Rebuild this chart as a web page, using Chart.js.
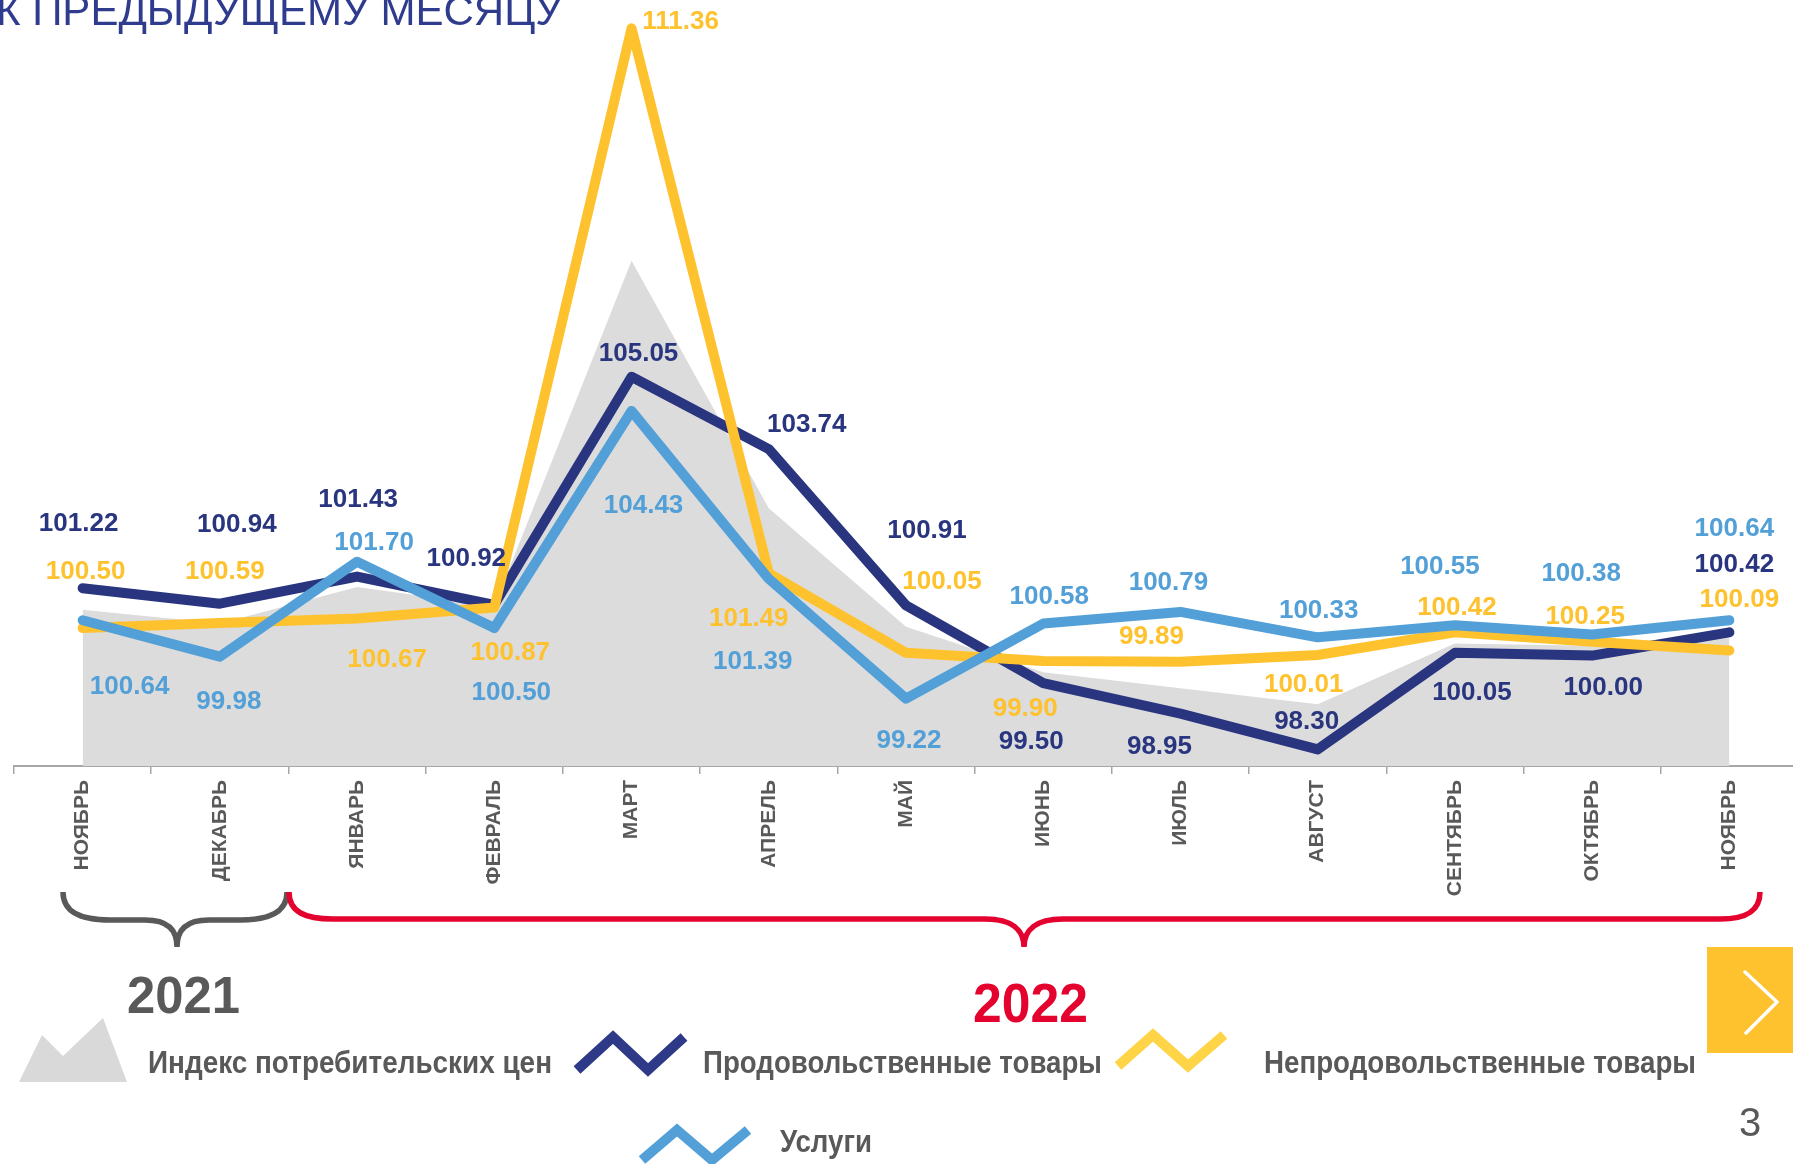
<!DOCTYPE html>
<html lang="ru">
<head>
<meta charset="utf-8">
<title>Индексы цен к предыдущему месяцу</title>
<script src="https://cdn.jsdelivr.net/npm/chart.js@4.4.1/dist/chart.umd.min.js"></script>
<style>
  html, body { margin: 0; padding: 0; background: #ffffff; }
  body { width: 1793px; height: 1164px; overflow: hidden; position: relative; }
  #chart { position: absolute; left: 0; top: -7px; }
  #overlay { position: absolute; left: 0; top: 0; pointer-events: none; }
  svg text { font-family: "Liberation Sans", Arial, sans-serif; }
</style>
</head>
<body>
<canvas id="chart" width="1798" height="933"></canvas>
<svg id="overlay" width="1793" height="1164" viewBox="0 0 1793 1164" xmlns="http://www.w3.org/2000/svg">
  <text x="-4" y="25" font-size="43" fill="#2F3C8E" textLength="566" lengthAdjust="spacingAndGlyphs">К ПРЕДЫДУЩЕМУ МЕСЯЦУ</text>

  <!-- braces -->
  <path d="M 63 892 C 63 912, 80 920, 110 920 L 145 920 C 168 920, 177 930, 177 947 C 177 930, 186 920, 209 920 L 240 920 C 270 920, 287 912, 287 892"
        fill="none" stroke="#595959" stroke-width="5.5"/>
  <path d="M 289 892 C 289 912, 305 919, 333 919 L 985 919 C 1012 919, 1024 930, 1024 947 C 1024 930, 1036 919, 1063 919 L 1720 919 C 1745 919, 1760 912, 1760 892"
        fill="none" stroke="#E4032E" stroke-width="5.5"/>

  <text x="127" y="1013" font-size="52" font-weight="bold" fill="#595959" textLength="113" lengthAdjust="spacingAndGlyphs">2021</text>
  <text x="973" y="1022" font-size="55" font-weight="bold" fill="#E4032E" textLength="115" lengthAdjust="spacingAndGlyphs">2022</text>

  <!-- legend -->
  <polygon points="19,1082 42,1035 63,1056 103,1018 127,1082" fill="#D9D9D9"/>
  <text x="148" y="1073" font-size="31" font-weight="bold" fill="#595959" textLength="404" lengthAdjust="spacingAndGlyphs">Индекс потребительских  цен</text>

  <polyline points="577,1070 613,1037 648,1070 684,1037" fill="none" stroke="#2E3A87" stroke-width="10"/>
  <text x="703" y="1073" font-size="31" font-weight="bold" fill="#595959" textLength="399" lengthAdjust="spacingAndGlyphs">Продовольственные товары</text>

  <polyline points="1118,1066 1153,1035 1188,1066 1224,1035" fill="none" stroke="#FFD447" stroke-width="10"/>
  <text x="1264" y="1073" font-size="31" font-weight="bold" fill="#595959" textLength="432" lengthAdjust="spacingAndGlyphs">Непродовольственные товары</text>

  <polyline points="642,1160 677,1130 712,1160 748,1130" fill="none" stroke="#52A0D7" stroke-width="10"/>
  <text x="780" y="1152" font-size="31" font-weight="bold" fill="#595959" textLength="92" lengthAdjust="spacingAndGlyphs">Услуги</text>

  <!-- navigation box -->
  <rect x="1707" y="947" width="86" height="106" fill="#FEC22F"/>
  <polyline points="1745,972 1777,1002 1746,1033" fill="none" stroke="#ffffff" stroke-width="3.5" stroke-linecap="round" stroke-linejoin="round"/>

  <text x="1739" y="1136" font-size="40" fill="#595959">3</text>
</svg>

<script>
// ---- data ----
const categories = ['НОЯБРЬ', 'ДЕКАБРЬ', 'ЯНВАРЬ', 'ФЕВРАЛЬ', 'МАРТ', 'АПРЕЛЬ', 'МАЙ',
                    'ИЮНЬ', 'ИЮЛЬ', 'АВГУСТ', 'СЕНТЯБРЬ', 'ОКТЯБРЬ', 'НОЯБРЬ'];

const seriesNames = ['Индекс потребительских цен', 'Продовольственные товары',
                     'Непродовольственные товары', 'Услуги'];

const cpi      = [100.83, 100.58, 101.24, 100.90, 107.15, 102.67, 100.52, 99.70, 99.41, 99.12, 100.22, 100.18, 100.32];
const food     = [101.22, 100.94, 101.43, 100.92, 105.05, 103.74, 100.91, 99.50, 98.95, 98.30, 100.05, 100.00, 100.42];
const nonFood  = [100.50, 100.59, 100.67, 100.87, 111.36, 101.49, 100.05, 99.90, 99.89, 100.01, 100.42, 100.25, 100.09];
const services = [100.64, 99.98, 101.70, 100.50, 104.43, 101.39, 99.22, 100.58, 100.79, 100.33, 100.55, 100.38, 100.64];

// ---- label placement (pixel offsets from each point, style only) ----
const foodLabelOffsets = [[-4,-66],[17,-81],[1,-79],[-28,-48],[7,-25],[38,-26],[21,-76],[-12,57],[-21,31],[-11,-29],[17,38],[11,30],[5,-69]];
const nonFoodLabelOffsets = [[3,-58],[5,-53],[30,39],[16,43],[49,-8],[-20,44],[36,-73],[-18,46],[-29,-27],[-14,28],[2,-26],[-7,-27],[10,-53]];
const servicesLabelOffsets = [[47,65],[9,43],[17,-21],[17,63],[12,93],[-16,81],[3,40],[6,-29],[-12,-31],[1,-28],[-15,-60],[-11,-63],[5,-93]];

const COLORS = {
  cpi: '#DCDCDC',
  food: '#29357F',
  nonFood: '#FEC22F',
  services: '#52A0D7',
  axis: '#A6A6A6',
  tickText: '#595959'
};

const pointLabelPlugin = {
  id: 'pointLabels',
  afterDatasetsDraw(chart) {
    const ctx = chart.ctx;
    chart.data.datasets.forEach((ds, i) => {
      if (!ds.labelOffsets) return;
      const meta = chart.getDatasetMeta(i);
      ctx.save();
      ctx.font = 'bold 26px "Liberation Sans", Arial, sans-serif';
      ctx.fillStyle = ds.borderColor;
      ctx.textAlign = 'center';
      ctx.textBaseline = 'alphabetic';
      meta.data.forEach((pt, j) => {
        const off = ds.labelOffsets[j];
        ctx.fillText(ds.data[j].toFixed(2), pt.x + off[0], pt.y + off[1] + 9);
      });
      ctx.restore();
    });
  }
};

const lineStyle = {
  borderWidth: 10,
  pointRadius: 0,
  pointHoverRadius: 0,
  tension: 0,
  fill: false,
  borderCapStyle: 'round',
  borderJoinStyle: 'round'
};

new Chart(document.getElementById('chart'), {
  type: 'line',
  data: {
    labels: categories,
    datasets: [
      Object.assign({}, lineStyle, { label: seriesNames[3], data: services, borderColor: COLORS.services, labelOffsets: servicesLabelOffsets, order: 0 }),
      Object.assign({}, lineStyle, { label: seriesNames[2], data: nonFood, borderColor: COLORS.nonFood, labelOffsets: nonFoodLabelOffsets, order: 1 }),
      Object.assign({}, lineStyle, { label: seriesNames[1], data: food, borderColor: COLORS.food, labelOffsets: foodLabelOffsets, order: 2 }),
      { label: seriesNames[0], data: cpi, borderWidth: 0, borderColor: COLORS.cpi, backgroundColor: COLORS.cpi,
        fill: 'start', pointRadius: 0, pointHoverRadius: 0, tension: 0, order: 3 }
    ]
  },
  options: {
    responsive: false,
    animation: false,
    events: [],
    layout: { padding: { left: 14, right: 0, top: 0, bottom: 0 } },
    plugins: {
      legend: { display: false },
      tooltip: { enabled: false },
      title: { display: false }
    },
    scales: {
      x: {
        type: 'category',
        offset: true,
        afterFit(scale) { scale.height = 160; },
        grid: {
          display: true,
          offset: true,
          drawOnChartArea: false,
          drawTicks: true,
          tickLength: 8,
          color: COLORS.axis,
          lineWidth: 1.5
        },
        border: { display: true, color: COLORS.axis, width: 2 },
        ticks: {
          autoSkip: false,
          minRotation: 90,
          maxRotation: 90,
          padding: 6,
          color: COLORS.tickText,
          font: { family: '"Liberation Sans", Arial, sans-serif', size: 21, weight: 'bold' }
        }
      },
      y: {
        display: false,
        min: 98,
        max: 112
      }
    }
  },
  plugins: [pointLabelPlugin]
});
</script>
</body>
</html>
